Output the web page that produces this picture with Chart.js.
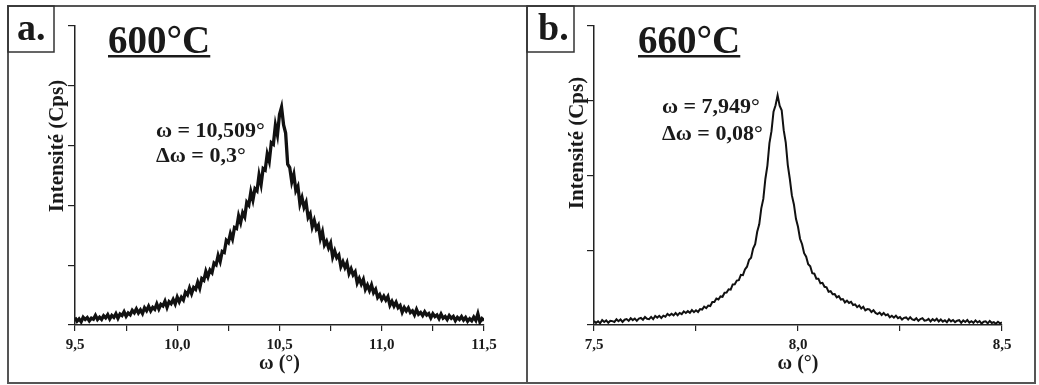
<!DOCTYPE html>
<html><head><meta charset="utf-8">
<script src="https://cdn.jsdelivr.net/npm/chart.js@4.4.1/dist/chart.umd.min.js"></script>
<style>
html,body{margin:0;padding:0;background:#fff;width:1039px;height:385px;overflow:hidden;}
canvas{position:absolute;top:0;}
#ca{left:0;} #cb{left:520px;}
</style></head><body>
<canvas id="ca" width="527" height="385"></canvas>
<canvas id="cb" width="519" height="385"></canvas>
<script>
// ---------- Panel a : 600°C ----------
const omegaA = [
9.50,9.51,9.52,9.53,9.54,9.55,9.56,9.57,9.58,9.59,
9.60,9.61,9.62,9.63,9.64,9.65,9.66,9.67,9.68,9.69,
9.70,9.71,9.72,9.73,9.74,9.75,9.76,9.77,9.78,9.79,
9.80,9.81,9.82,9.83,9.84,9.85,9.86,9.87,9.88,9.89,
9.90,9.91,9.92,9.93,9.94,9.95,9.96,9.97,9.98,9.99,
10.00,10.01,10.02,10.03,10.04,10.05,10.06,10.07,10.08,10.09,
10.10,10.11,10.12,10.13,10.14,10.15,10.16,10.17,10.18,10.19,
10.20,10.21,10.22,10.23,10.24,10.25,10.26,10.27,10.28,10.29,
10.30,10.31,10.32,10.33,10.34,10.35,10.36,10.37,10.38,10.39,
10.40,10.41,10.42,10.43,10.44,10.45,10.46,10.47,10.48,10.49,
10.50,10.51,10.52,10.53,10.54,10.55,10.56,10.57,10.58,10.59,
10.60,10.61,10.62,10.63,10.64,10.65,10.66,10.67,10.68,10.69,
10.70,10.71,10.72,10.73,10.74,10.75,10.76,10.77,10.78,10.79,
10.80,10.81,10.82,10.83,10.84,10.85,10.86,10.87,10.88,10.89,
10.90,10.91,10.92,10.93,10.94,10.95,10.96,10.97,10.98,10.99,
11.00,11.01,11.02,11.03,11.04,11.05,11.06,11.07,11.08,11.09,
11.10,11.11,11.12,11.13,11.14,11.15,11.16,11.17,11.18,11.19,
11.20,11.21,11.22,11.23,11.24,11.25,11.26,11.27,11.28,11.29,
11.30,11.31,11.32,11.33,11.34,11.35,11.36,11.37,11.38,11.39,
11.40,11.41,11.42,11.43,11.44,11.45,11.46,11.47,11.48,11.49,
11.50];
const intensityA = [
111,81,100,76,113,95,111,84,106,97,
129,95,114,96,126,109,135,99,128,112,
142,105,140,127,159,122,148,134,170,150,
182,148,173,144,191,167,204,166,195,179,
223,181,219,207,246,194,241,224,259,222,
279,240,278,255,318,298,353,307,358,342,
400,352,430,416,490,445,501,479,557,543,
620,571,653,644,744,726,799,754,849,841,
945,889,970,936,1056,1033,1141,1074,1167,1149,
1279,1201,1332,1320,1450,1392,1544,1531,1688,1607,
1774,1835,1690,1623,1368,1340,1223,1285,1151,1186,
1041,1094,1014,1055,932,962,854,907,838,867,
759,814,706,736,681,721,607,657,601,623,
529,568,521,560,472,510,461,486,394,432,
385,423,342,377,332,378,315,342,276,299,
258,286,254,282,211,244,205,237,192,210,
155,193,165,190,152,166,133,178,138,152,
127,158,131,144,108,143,119,132,103,140,
106,120,95,127,105,120,86,112,96,119,
91,112,81,101,84,115,88,143,75,102,
87];
const xTickValuesA = [9.5, 9.75, 10, 10.25, 10.5, 10.75, 11, 11.25, 11.5];
const xTickLabelsA = ['9,5', '', '10,0', '', '10,5', '', '11,0', '', '11,5'];
const yTickValuesA = [50, 540, 1030, 1520, 2010, 2500];

// ---------- Panel b : 660°C ----------
const omegaB = [
7.500,7.505,7.510,7.515,7.520,7.525,7.530,7.535,7.540,7.545,
7.550,7.555,7.560,7.565,7.570,7.575,7.580,7.585,7.590,7.595,
7.600,7.605,7.610,7.615,7.620,7.625,7.630,7.635,7.640,7.645,
7.650,7.655,7.660,7.665,7.670,7.675,7.680,7.685,7.690,7.695,
7.700,7.705,7.710,7.715,7.720,7.725,7.730,7.735,7.740,7.745,
7.750,7.755,7.760,7.765,7.770,7.775,7.780,7.785,7.790,7.795,
7.800,7.805,7.810,7.815,7.820,7.825,7.830,7.835,7.840,7.845,
7.850,7.855,7.860,7.865,7.870,7.875,7.880,7.885,7.890,7.895,
7.900,7.905,7.910,7.915,7.920,7.925,7.930,7.935,7.940,7.945,
7.950,7.955,7.960,7.965,7.970,7.975,7.980,7.985,7.990,7.995,
8.000,8.005,8.010,8.015,8.020,8.025,8.030,8.035,8.040,8.045,
8.050,8.055,8.060,8.065,8.070,8.075,8.080,8.085,8.090,8.095,
8.100,8.105,8.110,8.115,8.120,8.125,8.130,8.135,8.140,8.145,
8.150,8.155,8.160,8.165,8.170,8.175,8.180,8.185,8.190,8.195,
8.200,8.205,8.210,8.215,8.220,8.225,8.230,8.235,8.240,8.245,
8.250,8.255,8.260,8.265,8.270,8.275,8.280,8.285,8.290,8.295,
8.300,8.305,8.310,8.315,8.320,8.325,8.330,8.335,8.340,8.345,
8.350,8.355,8.360,8.365,8.370,8.375,8.380,8.385,8.390,8.395,
8.400,8.405,8.410,8.415,8.420,8.425,8.430,8.435,8.440,8.445,
8.450,8.455,8.460,8.465,8.470,8.475,8.480,8.485,8.490,8.495,
8.500];
const intensityB = [
4.0,2.1,3.7,1.8,4.9,3.0,4.6,2.2,4.3,3.9,
3.0,5.7,3.8,5.5,3.1,5.3,5.9,4.1,6.7,4.9,
6.5,4.2,6.4,7.1,5.3,8.0,6.2,5.9,8.1,5.8,
9.0,7.4,9.2,7.1,9.4,8.3,11.1,9.5,11.3,9.7,
12.0,9.8,12.1,10.9,13.7,12.0,13.9,12.2,
15.0,12.9,14.8,13.1,
16.0,15.5,18.5,17.0,
19.5,19.0,23.0,23.0,
26.5,25.6,28.7,28.3,32.4,32.5,
35.8,35.5,40.7,40.9,44.6,
45.0,50.3,50.0,55.7,58.5,65.3,67.5,76.6,81.0,93.5,
101,117,126.5,146.5,160,182.5,194.5,214,220.5,230.5,
220,215.5,195.5,183,160.5,146.5,130,121,106.5,98.5,
86.5,81,72,68.5,61,59,52,51.5,46.5,46.5,
41.8,42.3,38.3,37.8,33.3,34.0,30.8,31.0,27.7,29.0,
25.5,26.0,
22.7,24.4,22.1,23.3,20.0,20.7,17.9,19.6,
16.5,18.3,14.6,15.9,15.7,13.0,14.8,12.1,11.0,
12.5,10.1,12.1,9.7,10.7,7.8,9.3,7.4,9.4,6.9,
8.0,5.4,7.2,7.6,5.4,7.8,5.6,5.0,6.8,4.2,6.0,6.9,4.3,4.7,6.1,3.5,5.9,4.3,6.2,3.6,
5.5,3.4,4.8,2.75,5.7,3.6,5.0,2.9,4.35,4.8,2.2,4.6,3.0,4.95,2.4,3.8,2.2,4.6,2.55,4.0,
1.4,3.3,3.7,1.65,4.1,2.0,2.9,1.3,3.2,1.6,2.5];
const xTickValuesB = [7.5, 7.75, 8, 8.25, 8.5];
const xTickLabelsB = ['7,5', '', '8,0', '', '8,5'];
const yTickValuesB = [0, 75, 150, 225, 300];

const FONT = "'Liberation Serif', 'Times New Roman', serif";
const INK = '#1a1a1a';

function decor(p) {
  return {
    id: 'decor_' + p.key,
    afterDraw(chart) {
      const ctx = chart.ctx;
      ctx.save();
      ctx.strokeStyle = '#555'; ctx.lineWidth = 2;
      ctx.strokeRect(p.frame[0], p.frame[1], p.frame[2], p.frame[3]);
      ctx.strokeStyle = '#333'; ctx.lineWidth = 1.5;
      ctx.strokeRect(p.box[0], p.box[1], p.box[2], p.box[3]);
      ctx.fillStyle = INK; ctx.textAlign = 'left'; ctx.textBaseline = 'alphabetic';
      ctx.font = 'bold 38px ' + FONT;
      ctx.fillText(p.letter, p.letterPos[0], p.letterPos[1]);
      ctx.font = 'bold 39px ' + FONT;
      ctx.fillText(p.title, p.titlePos[0], p.titlePos[1]);
      const w = ctx.measureText(p.title).width;
      ctx.fillRect(p.titlePos[0], p.titlePos[1] + 2, w, 2.5);
      ctx.font = 'bold 22px ' + FONT;
      p.ann.forEach((t, i) => ctx.fillText(t, p.annPos[0], p.annPos[1] + i * p.annGap));
      ctx.translate(p.yLabelPos[0], p.yLabelPos[1]);
      ctx.rotate(-Math.PI / 2);
      ctx.textAlign = 'center'; ctx.textBaseline = 'middle';
      ctx.font = 'bold 21px ' + FONT;
      ctx.fillText(p.yTitle, 0, 0);
      ctx.restore();
    }
  };
}

function makeChart(id, omega, inten, lw, xr, xTV, xTL, yr, yTV, yWidth, padRight, p) {
  const pts = omega.map((x, i) => ({x: x, y: inten[i]}));
  return new Chart(document.getElementById(id), {
    type: 'line',
    data: {datasets: [{data: pts, borderColor: '#111', borderWidth: lw, pointRadius: 0, fill: false, tension: 0, borderJoinStyle: 'miter'}]},
    options: {
      responsive: false, animation: false, devicePixelRatio: 1,
      layout: {padding: {left: 0, right: padRight, top: 26, bottom: 9}},
      plugins: {legend: {display: false}, tooltip: {enabled: false}},
      scales: {
        x: {
          type: 'linear', min: xr[0], max: xr[1],
          afterFit: s => { s.height = 51; },
          afterBuildTicks: s => { s.ticks = xTV.map(v => ({value: v})); },
          grid: {drawOnChartArea: false, drawTicks: true, tickLength: 6, color: '#222', lineWidth: 1.2},
          border: {display: true, color: '#222', width: 1.5},
          ticks: {autoSkip: false, maxRotation: 0, minRotation: 0, padding: 5, color: INK,
                  font: {family: FONT, size: 15, weight: 'bold'},
                  callback: (v, i) => xTL[i]},
          title: {display: true, text: 'ω (°)', color: INK, font: {family: FONT, size: 20, weight: 'bold'},
                  padding: {top: 0, bottom: 0}}
        },
        y: {
          type: 'linear', min: yr[0], max: yr[1],
          afterFit: s => { s.width = yWidth; },
          afterBuildTicks: s => { s.ticks = yTV.map(v => ({value: v})); },
          grid: {drawOnChartArea: false, drawTicks: true, tickLength: 7, color: '#222', lineWidth: 1.2},
          border: {display: true, color: '#222', width: 1.5},
          ticks: {display: false}
        }
      }
    },
    plugins: [decor(p)]
  });
}

makeChart('ca', omegaA, intensityA, 3.3, [9.5, 11.5], xTickValuesA, xTickLabelsA, [50, 2500], yTickValuesA, 75, 43, {
  key: 'a', frame: [8, 6, 519, 377], box: [8, 6, 46, 46], letter: 'a.', letterPos: [17, 40],
  title: '600°C', titlePos: [108, 53], ann: ['ω = 10,509°', 'Δω = 0,3°'], annPos: [156, 137], annGap: 25,
  yTitle: 'Intensité (Cps)', yLabelPos: [58, 146]
});
makeChart('cb', omegaB, intensityB, 2, [7.5, 8.5], xTickValuesB, xTickLabelsB, [0, 300], yTickValuesB, 74, 37, {
  key: 'b', frame: [7, 6, 508, 377], box: [7, 6, 47, 46], letter: 'b.', letterPos: [18, 40],
  title: '660°C', titlePos: [118, 53], ann: ['ω = 7,949°', 'Δω = 0,08°'], annPos: [142, 113], annGap: 27,
  yTitle: 'Intensité (Cps)', yLabelPos: [58, 143]
});
</script>
</body></html>
